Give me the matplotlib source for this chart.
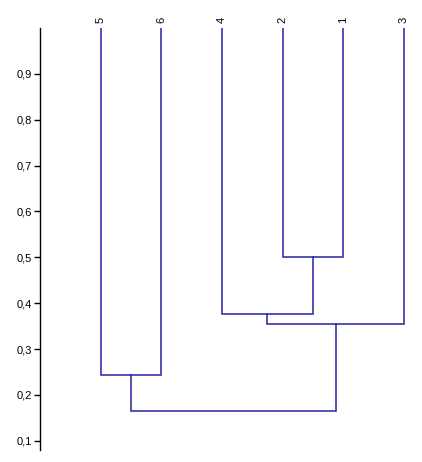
import matplotlib
matplotlib.use("Agg")
import matplotlib.pyplot as plt

plt.rcParams['font.family'] = ['Liberation Sans', 'DejaVu Sans']

# leaf order (left to right) and merges
leaf_labels = ["5", "6", "4", "2", "1", "3"]
# merges: (left node, right node, height); nodes are leaf indices 0..5 or cluster ids 6..
merge_pairs = [(3, 4), (2, 6), (7, 5), (0, 1), (9, 8)]
merge_heights = [0.50, 0.376, 0.354, 0.2435, 0.165]
y_ticks = [0.1, 0.2, 0.3, 0.4, 0.5, 0.6, 0.7, 0.8, 0.9]
top_level = 1.0

line_color = "#2222a8"

fig = plt.figure(figsize=(4.22, 4.62), dpi=100)
ax = fig.add_axes([40 / 422, 1 - 450 / 462, 1 - 40 / 422, (450 - 28) / 462])

# node positions
xs = {i: i + 1 for i in range(len(leaf_labels))}
ys = {i: top_level for i in range(len(leaf_labels))}
nid = len(leaf_labels)
for (a, b), h in zip(merge_pairs, merge_heights):
    ax.plot([xs[a], xs[a], xs[b], xs[b]], [ys[a], h, h, ys[b]],
            color=line_color, lw=1.1, solid_joinstyle="miter")
    xs[nid] = (xs[a] + xs[b]) / 2
    ys[nid] = h
    nid += 1

ax.set_xlim(0, 6.3)
ax.set_ylim(0.08, top_level)
for s in ["top", "right", "bottom"]:
    ax.spines[s].set_visible(False)
ax.spines["left"].set_linewidth(1.0)
ax.set_xticks([])
ax.set_yticks(y_ticks)
ax.set_yticklabels([f"{v:.1f}".replace(".", ",") for v in y_ticks], fontsize=8)
ax.tick_params(axis="y", length=4, width=1, pad=2)

for i, lab in enumerate(leaf_labels):
    ax.text(xs[i], top_level + 0.01, lab, rotation=90, ha="center", va="bottom",
            fontsize=8, clip_on=False)

fig.savefig("out.png", dpi=100)
